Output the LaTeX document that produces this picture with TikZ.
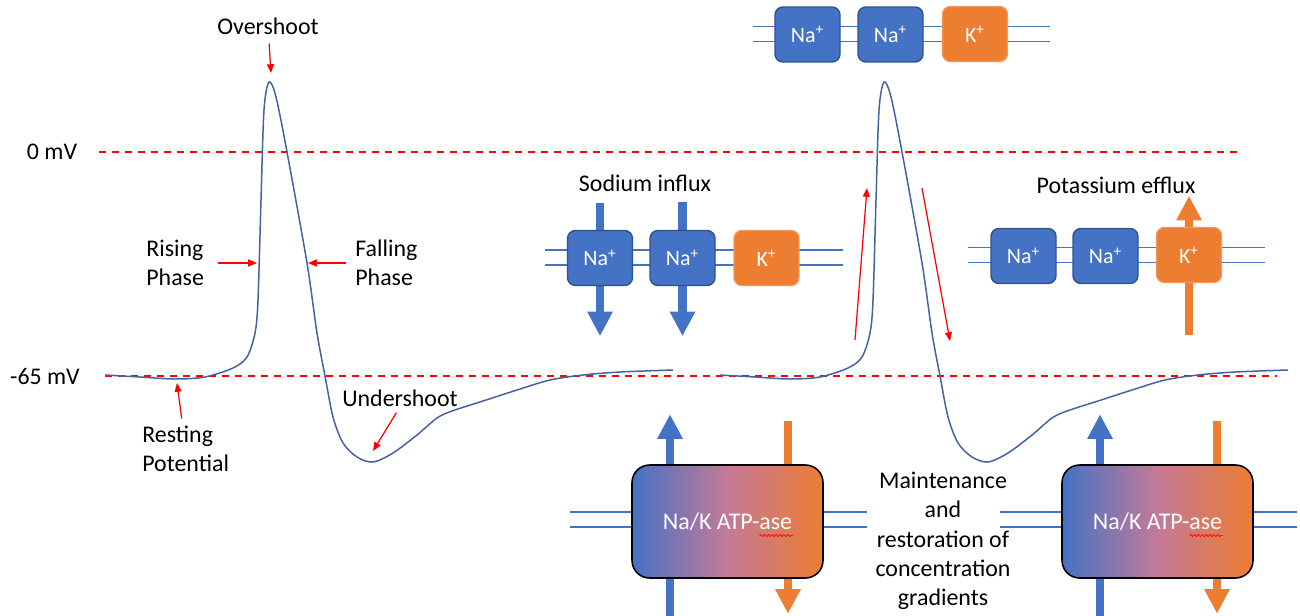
\documentclass[tikz,border=0pt]{standalone}
\usepackage{fontspec}
\setmainfont{Carlito}
\usetikzlibrary{arrows.meta,backgrounds,calc,decorations.pathmorphing}
\definecolor{chanblue}{HTML}{4472C4}
\definecolor{chanedge}{HTML}{2F528F}
\definecolor{chanorange}{HTML}{ED7D31}
\definecolor{tracecol}{RGB}{68,98,162}
\definecolor{pumpmid}{RGB}{196,122,152}
\def\membrane(#1:#2:#3){\draw[membrane] (#1,#3-7.5) -- (#2,#3-7.5) (#1,#3+7.5) -- (#2,#3+7.5);}
\def\spike(#1){\draw[aptrace, shift={(#1,0)}] plot[smooth, tension=0.5] coordinates {(105,375) (140,377) (175,379) (205,377) (233,368) (247,357) (255,333) (258,300) (261,200) (264,110) (269,82) (276,97) (287,152) (307,263) (317,333) (325,376) (333,417) (343,443) (357,457) (373,462) (393,453) (417,435) (437,418) (452,411) (483,401) (517,390) (550,380) (583,375) (620,372) (673,370)};}
\tikzset{
	lbl/.style={inner sep=0pt, font=\fontsize{13.6}{16.7}\selectfont},
	channel/.style={rounded corners=4.5pt, minimum width=1.3cm, minimum height=1.1cm, inner sep=0pt, line width=0.8pt, text=white, font=\fontsize{12.5}{14}\selectfont},
	nachan/.style={channel, fill=chanblue, draw=chanedge},
	kchan/.style={channel, fill=chanorange, draw=chanorange!80!white},
	pump/.style={rounded corners=10pt, minimum width=3.82cm, minimum height=2.26cm, draw=black, line width=0.9pt, left color=chanblue, right color=chanorange, middle color=pumpmid, text=white, font=\fontsize{13.6}{16.7}\selectfont},
	membrane/.style={chanblue, line width=0.85pt},
	naflow/.style={chanblue, line width=5pt, -{Triangle[length=14pt,width=13.6pt]}},
	kflow/.style={chanorange, line width=5pt, -{Triangle[length=14pt,width=13.6pt]}},
	mvline/.style={red, line width=0.85pt, dash pattern=on 4pt off 3.4pt},
	annot/.style={red, line width=0.7pt, -{Triangle[length=5pt,width=4pt]}},
	aptrace/.style={tracecol, line width=0.85pt},
	spell/.style={red, line width=0.4pt, decorate, decoration={snake, segment length=2.2pt, amplitude=0.6pt}}
}
\begin{document}
\begin{tikzpicture}[x=0.02cm, y=-0.02cm]
	%%%%% START %%%%%
	\useasboundingbox (0,0) rectangle (1300,615);
	
	% levels
	\node[lbl] (zero) at (52,152) {0 mV};
	\node[lbl] (rest) at (45,377) {-65 mV};
	\coordinate (zero-a) at (99,152);
	\coordinate (zero-b) at (1237,152);
	\coordinate (rest-a) at (105,376);
	\coordinate (rest-b) at (1277,376);
	\draw[mvline] (zero-a) -- (zero-b);
	\draw[mvline] (rest-a) -- (rest-b);
	
	% action potentials
	\spike(0)
	\spike(615)
	
	% phase labels
	\node[lbl] (overshoot) at (268,26) {Overshoot};
	\node[lbl, align=left, anchor=west] (rising) at (146,263) {Rising\\Phase};
	\node[lbl, align=left, anchor=west] (falling) at (355,263) {Falling\\Phase};
	\node[lbl, align=left, anchor=west] (resting) at (142,449) {Resting\\Potential};
	\node[lbl] (undershoot) at (400,398) {Undershoot};
	\coordinate (os-tip) at (271,73);
	\coordinate (rise-tip) at (257,263);
	\coordinate (fall-tip) at (308,263);
	\coordinate (rest-tip) at (177,383);
	\coordinate (us-tip) at (373,451);
	\draw[annot, shorten <=5pt] (overshoot) -- (os-tip);
	\draw[annot, shorten <=8pt] (rising) -- (rise-tip);
	\draw[annot, shorten <=5pt] (falling) -- (fall-tip);
	\draw[annot, shorten <=4pt] (resting) -- (rest-tip);
	\draw[annot, shorten <=4pt] (undershoot.south) -- (us-tip);
	
	\coordinate (up-a) at (855,340);
	\coordinate (up-b) at (867,188);
	\coordinate (dn-a) at (922,188);
	\coordinate (dn-b) at (950,341);
	\draw[annot] (up-a) -- (up-b);
	\draw[annot] (dn-a) -- (dn-b);
	
	% channels at the peak
	\node[nachan] (na-top1) at (807.5,34.5) {Na\textsuperscript{+}};
	\node[nachan] (na-top2) at (890.5,34.5) {Na\textsuperscript{+}};
	\node[kchan] (k-top) at (975,34) {K\textsuperscript{+}};
	
	% sodium influx
	\node[lbl] (influx) at (645,183) {Sodium influx};
	\node[nachan] (na-in1) at (600,258) {Na\textsuperscript{+}};
	\node[nachan] (na-in2) at (682.5,258) {Na\textsuperscript{+}};
	\node[kchan] (k-in) at (766.5,258) {K\textsuperscript{+}};
	
	% potassium efflux
	\node[lbl] (efflux) at (1116,185) {Potassium efflux};
	\node[nachan] (na-out1) at (1023.5,256) {Na\textsuperscript{+}};
	\node[nachan] (na-out2) at (1105.5,256) {Na\textsuperscript{+}};
	\node[kchan] (k-out) at (1189,255) {K\textsuperscript{+}};
	
	% pumps
	\node[pump] (atp1) at (727.5,521.5) {Na/K ATP-ase};
	\node[pump] (atp2) at (1157.5,521.5) {Na/K ATP-ase};
	\draw[spell] ($(atp1.center)+(32,14)$) -- ($(atp1.center)+(65,14)$);
	\draw[spell] ($(atp2.center)+(32,14)$) -- ($(atp2.center)+(65,14)$);
	\node[lbl, align=center] (restore) at (943,541) {Maintenance\\and\\restoration of\\concentration\\gradients};
	
	\begin{pgfonlayer}{background}
		\membrane(753:1050:34)
		\membrane(545:843:257.5)
		\membrane(968:1265:255)
		\membrane(570:867:519.5)
		\membrane(1000:1297:519.5)
		
		\draw[naflow] ($(na-in1.north)+(0,-27)$) -- ($(na-in1.south)+(0,50)$);
		\draw[naflow] ($(na-in2.north)+(0,-28)$) -- ($(na-in2.south)+(0,50)$);
		\draw[kflow] ($(k-out.south)+(0,52)$) -- ($(k-out.north)+(0,-31)$);
		
		\draw[naflow] ($(atp1.south)+(-57.5,37)$) -- ($(atp1.north)+(-57.5,-50)$);
		\draw[kflow] ($(atp1.north)+(60.5,-43)$) -- ($(atp1.south)+(60.5,35)$);
		\draw[naflow] ($(atp2.south)+(-57.5,37)$) -- ($(atp2.north)+(-57.5,-50)$);
		\draw[kflow] ($(atp2.north)+(59.5,-43)$) -- ($(atp2.south)+(59.5,35)$);
	\end{pgfonlayer}
	%%%%% END %%%%%
\end{tikzpicture}
\end{document}
